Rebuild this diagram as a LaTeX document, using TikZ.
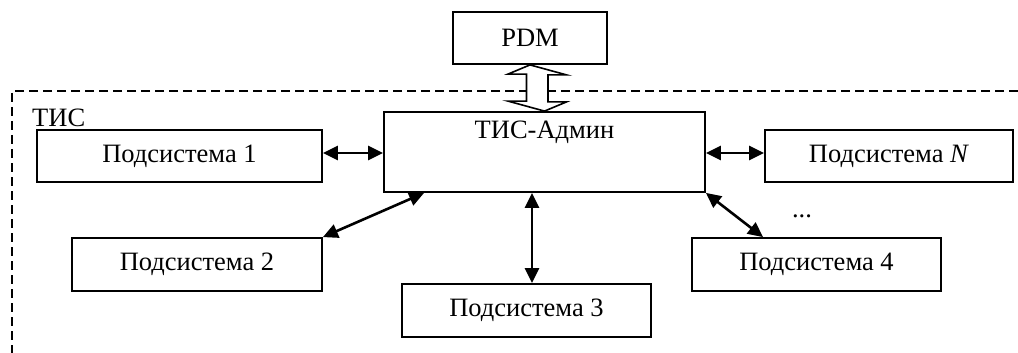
\documentclass[tikz,border=0pt]{standalone}
\usepackage{fontspec}
\setmainfont{Liberation Serif}
\usetikzlibrary{arrows.meta}
\begin{document}
\begin{tikzpicture}[x=1pt,y=-1pt,
  box/.style={draw, line width=1.8pt, rectangle, inner sep=0pt, minimum height=53pt,
    font=\fontsize{26.5}{30}\selectfont},
  lbl/.style={inner sep=0pt, font=\fontsize{26.5}{30}\selectfont},
  link/.style={line width=2.6pt, {Triangle[length=15pt,width=14pt]}-{Triangle[length=15pt,width=14pt]}},
  frame/.style={line width=1.6pt, dash pattern=on 9pt off 5pt},
  hollow/.style={draw, line width=1.6pt, fill=white, line join=miter}]
\useasboundingbox (0,0) rectangle (1018,353);

% outer dashed boundary of the system
\draw[frame] (1018,91) -- (12,91) -- (12,360);
\node[lbl, anchor=base west] (tis) at (32,126) {ТИС};

% boxes
\node[box, minimum width=154pt, minimum height=52pt] (pdm) at (530,38) {PDM};
\node[box, minimum width=321pt, minimum height=80pt] (admin) at (544.5,152) {};
\node[lbl, anchor=base] (admintext) at (544.5,139) {ТИС-Админ};
\node[box, minimum width=285pt, minimum height=52pt] (s1) at (179.5,156) {Подсистема 1};
\node[box, minimum width=248pt, minimum height=52pt] (sN) at (889,156) {Подсистема \textit{N}};
\node[box, minimum width=250pt] (s2) at (197,264.5) {Подсистема 2};
\node[box, minimum width=249pt] (s3) at (526.5,310.5) {Подсистема 3};
\node[box, minimum width=249pt] (s4) at (816.5,264.5) {Подсистема 4};
\node[lbl, anchor=base] (dots) at (802,217) {...};

% hollow two-way arrow between PDM and the administrator
\draw[hollow] (pdm.south) -- ++(36.5,10) -- ++(-18.5,0) -- ++(0,27) -- ++(18.5,0)
  -- (admin.north) -- ++(-36.5,-10) -- ++(18.5,0) -- ++(0,-27) -- ++(-18.5,0) -- cycle;

% two-way links
\draw[link] ([yshift=3pt]s1.east) -- ([yshift=3pt]s1.east -| admin.west);
\draw[link] ([yshift=3pt]sN.west) -- ([yshift=3pt]sN.west -| admin.east);
\draw[link] ([xshift=41pt]admin.south west) -- (s2.north east);
\draw[link] ([xshift=5.5pt]s3.north) -- ([xshift=5.5pt]s3.north |- admin.south);
\draw[link] (admin.south east) -- ([xshift=-53.5pt]s4.north);
\end{tikzpicture}
\end{document}
